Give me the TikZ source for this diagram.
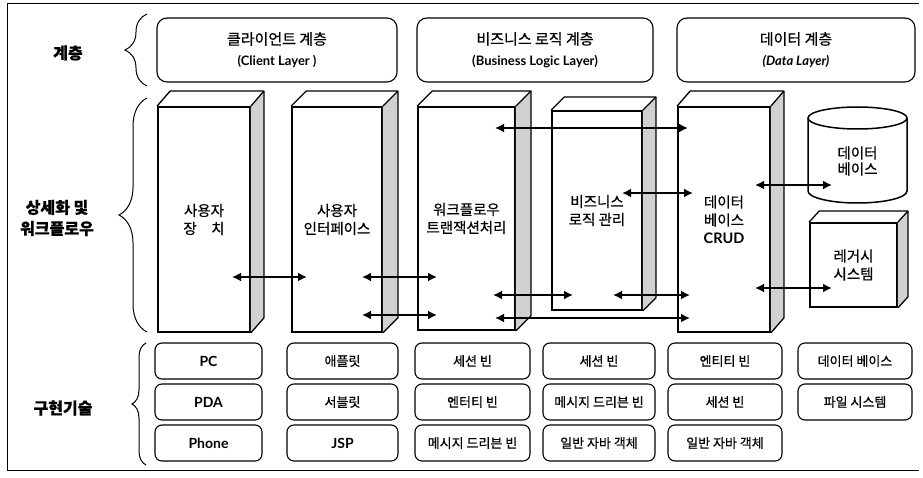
\documentclass[tikz,border=0pt]{standalone}
\usepackage{fontspec}
\setmainfont{Noto Sans CJK KR}[FakeBold=0.6]
\newfontfamily\lat{Lato}
\usetikzlibrary{arrows.meta,decorations.pathreplacing,calc}
\begin{document}
\begin{tikzpicture}[x=1pt,y=-1pt,
  front/.style={draw, line width=1.8pt, fill=white, align=center, inner sep=0pt,
    font=\fontsize{14.5}{18}\selectfont},
  backedge/.style={line width=1.3pt, line join=round},
  sidefill/.style={fill=black!18},
  layer/.style={draw, line width=1.1pt, rounded corners=10pt, minimum height=64pt,
    align=center, font=\fontsize{15}{21}\selectfont},
  tech/.style={draw, line width=1.1pt, rounded corners=7pt, minimum height=36pt,
    font=\fontsize{13}{16}\selectfont},
  rowlabel/.style={align=center, font=\fontsize{16}{21}\selectfont\bfseries},
  brc/.style={decorate, line width=1pt},
  dbl/.style={{Latex[length=9pt,width=9pt]}-{Latex[length=9pt,width=9pt]}, line width=2.3pt},
  latb/.style={font=\lat\bfseries\fontsize{14}{16}\selectfont}
]
\useasboundingbox (0,0) rectangle (923,478);
% outer frame
\draw[line width=1pt] (919,4) -- (7,4) -- (7,470) -- (919,470);

% row labels and braces
\node[rowlabel] (r1) at (68,53) {계층};
\node[rowlabel] (r2) at (57,218) {상세화 및\\워크플로우};
\node[rowlabel] (r3) at (63,408) {구현기술};
\draw[brc, decoration={brace, amplitude=22pt}] (147,86) -- (147,14);
\draw[brc, decoration={brace, amplitude=28pt}] (147,332) -- (147,98);
\draw[brc, decoration={brace, amplitude=14pt}] (146,465) -- (146,343);

% layer boxes
\node[layer, minimum width=240pt] (L1) at (277,50) {클라이언트 계층\\{\lat\bfseries\fontsize{13}{16}\selectfont (Client Layer )}};
\node[layer, minimum width=236pt] (L2) at (535,50) {비즈니스 로직 계층\\{\lat\bfseries\fontsize{13}{16}\selectfont (Business Logic Layer)}};
\node[layer, minimum width=238pt] (L3) at (796,50) {데이터 계층\\{\lat\bfseries\itshape\fontsize{13}{16}\selectfont (Data Layer)}};

% slabs (front faces)
\node[front, minimum width=92pt, minimum height=225pt] (s1) at (204,219.5) {사용자\\장\quad 치};
\node[front, minimum width=90pt, minimum height=225pt] (s2) at (337,219.5) {사용자\\인터페이스};
\node[front, minimum width=97pt, minimum height=223pt] (s3) at (466.5,218.5) {워크플로우\\트랜잭션처리};
\node[front, minimum width=90pt, minimum height=199pt] (s4) at (597,210.5) {비즈니스\\로직 관리};
\node[front, minimum width=92pt, minimum height=225pt] (s5) at (724,219.5) {데이터\\베이스\\{\lat\bfseries CRUD}};
\node[front, minimum width=87pt, minimum height=84pt] (leg) at (853.5,265) {레거시\\시스템};

\foreach \n/\dx/\dy in {s1/13/15, s2/15/15, s3/15/15, s4/13/13, s5/13/15, leg/10/11}{
  \fill[sidefill] (\n.north east) -- ($(\n.north east)+(\dx,-\dy)$) -- ($(\n.south east)+(\dx,-\dy)$) -- (\n.south east) -- cycle;
  \draw[backedge] (\n.north west) -- ($(\n.north west)+(\dx,-\dy)$) -- ($(\n.north east)+(\dx,-\dy)$) -- (\n.north east);
  \draw[backedge] ($(\n.north east)+(\dx,-\dy)$) -- ($(\n.south east)+(\dx,-\dy)$) -- (\n.south east);
}

% database cylinder
\draw[line width=1.5pt, fill=white] (808,118) -- (808,191) arc[start angle=180, end angle=360, x radius=49.5pt, y radius=12pt] -- (907,118);
\draw[line width=1.5pt] (857.5,118) ellipse [x radius=49.5pt, y radius=11pt];
\node[align=center, font=\fontsize{14.5}{16}\selectfont] (db) at (857.5,161) {데이터\\베이스};

% arrow end points
\coordinate (a1l) at (232,277); \coordinate (a1r) at (307,277);
\coordinate (a2l) at (362,277); \coordinate (a2r) at (437,277);
\coordinate (a3l) at (362,315); \coordinate (a3r) at (437,315);
\coordinate (a4l) at (495,128); \coordinate (a4r) at (688,128);
\coordinate (a5l) at (622,193); \coordinate (a5r) at (693,193);
\coordinate (a6l) at (493,295); \coordinate (a6r) at (573,295);
\coordinate (a7l) at (613,295); \coordinate (a7r) at (690,295);
\coordinate (a8l) at (495,318); \coordinate (a8r) at (690,318);
\coordinate (a9l) at (755,185); \coordinate (a9r) at (832,185);
\coordinate (a10l) at (755,288); \coordinate (a10r) at (832,288);
\foreach \k in {1,...,10}{ \draw[dbl] (a\k l) -- (a\k r); }

% technology boxes
\node[tech, minimum width=107pt, latb] (t11) at (208.5,361) {PC};
\node[tech, minimum width=107pt, latb] (t12) at (208.5,402) {PDA};
\node[tech, minimum width=107pt, latb] (t13) at (208.5,443) {Phone};
\node[tech, minimum width=111pt] (t21) at (342.5,361) {애플릿};
\node[tech, minimum width=111pt] (t22) at (342.5,402) {서블릿};
\node[tech, minimum width=111pt, latb] (t23) at (342.5,443) {JSP};
\node[tech, minimum width=115pt] (t31) at (472.5,361) {세션 빈};
\node[tech, minimum width=115pt] (t32) at (472.5,402) {엔터티 빈};
\node[tech, minimum width=115pt] (t33) at (472.5,443) {메시지 드리븐 빈};
\node[tech, minimum width=112pt] (t41) at (599,361) {세션 빈};
\node[tech, minimum width=112pt] (t42) at (599,402) {메시지 드리븐 빈};
\node[tech, minimum width=112pt] (t43) at (599,443) {일반 자바 객체};
\node[tech, minimum width=114pt] (t51) at (725,361) {엔티티 빈};
\node[tech, minimum width=114pt] (t52) at (725,402) {세션 빈};
\node[tech, minimum width=114pt] (t53) at (725,443) {일반 자바 객체};
\node[tech, minimum width=114pt] (t61) at (855,361) {데이터 베이스};
\node[tech, minimum width=114pt] (t62) at (855,402) {파일 시스템};
\end{tikzpicture}
\end{document}
